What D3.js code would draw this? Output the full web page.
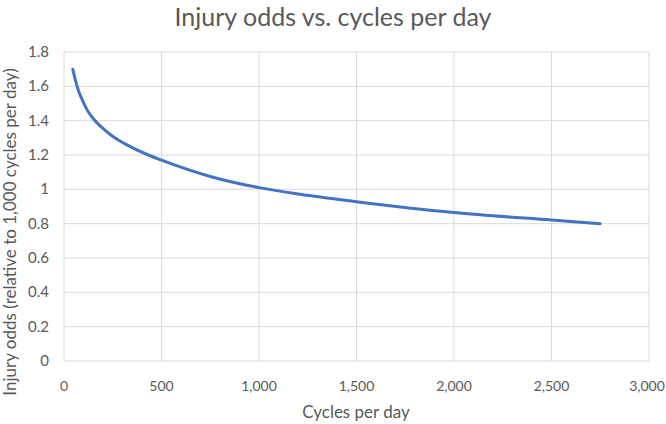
<!DOCTYPE html>
<html>
<head>
<meta charset="utf-8">
<script src="https://cdn.jsdelivr.net/npm/d3@7"></script>
<style>
  body { margin: 0; background: #fff; }
  text { font-family: Lato, "Open Sans", sans-serif; fill: #595959; }
</style>
</head>
<body>
<svg id="chart" width="666" height="424"></svg>
<script>
// values
var cycles = [45, 67, 100, 120, 155, 210, 260, 313, 432, 500, 750, 1000, 1210, 1500, 2000, 2500, 2750];
var odds   = [1.70, 1.60, 1.505, 1.46, 1.405, 1.345, 1.30, 1.265, 1.20, 1.17, 1.075, 1.01, 0.971, 0.928, 0.865, 0.821, 0.80];
var xTicks = [0, 500, 1000, 1500, 2000, 2500, 3000];
var yTicks = [0, 0.2, 0.4, 0.6, 0.8, 1, 1.2, 1.4, 1.6, 1.8];

var svg = d3.select("#chart");
var margin = {top: 52, right: 17, bottom: 63, left: 64};
var width = 666 - margin.left - margin.right,
    height = 424 - margin.top - margin.bottom;

var x = d3.scaleLinear().domain([0, 3000]).range([0, width]);
var y = d3.scaleLinear().domain([0, 1.8]).range([height, 0]);

var g = svg.append("g").attr("transform", "translate(" + margin.left + "," + margin.top + ")");

// gridlines
g.selectAll(".hgrid").data(yTicks).enter().append("line")
  .attr("x1", 0).attr("x2", width)
  .attr("y1", d => y(d)).attr("y2", d => y(d))
  .style("stroke", "#d9d9d9").style("stroke-width", 1);
g.selectAll(".vgrid").data(xTicks).enter().append("line")
  .attr("y1", 0).attr("y2", height)
  .attr("x1", d => x(d)).attr("x2", d => x(d))
  .style("stroke", "#d9d9d9").style("stroke-width", 1);

// tick labels
var fmtX = d3.format(",");
g.selectAll(".xlab").data(xTicks).enter().append("text")
  .attr("x", d => x(d) - (d === 3000 ? 2 : 0)).attr("y", height + 30)
  .attr("text-anchor", "middle")
  .style("font-size", "14px")
  .text(d => fmtX(d));
g.selectAll(".ylab").data(yTicks).enter().append("text")
  .attr("x", -15).attr("y", d => y(d) + 5)
  .attr("text-anchor", "end")
  .style("font-size", "15px")
  .text(d => d3.format("~g")(d));

// curve
var line = d3.line()
  .x((d, i) => x(cycles[i]))
  .y(d => y(d))
  .curve(d3.curveMonotoneX);
g.append("path")
  .datum(odds)
  .attr("d", line)
  .style("fill", "none")
  .style("stroke", "#4472c4")
  .style("stroke-width", 3)
  .style("stroke-linecap", "round");

// titles
svg.append("text")
  .attr("x", 333).attr("y", 26)
  .attr("text-anchor", "middle")
  .style("font-size", "25px")
  .text("Injury odds vs. cycles per day");
svg.append("text")
  .attr("x", 356).attr("y", 418)
  .attr("text-anchor", "middle")
  .style("font-size", "17px")
  .text("Cycles per day");
svg.append("text")
  .attr("transform", "translate(16,232) rotate(-90)")
  .attr("text-anchor", "middle")
  .style("font-size", "17px")
  .text("Injury odds (relative to 1,000 cycles per day)");
</script>
</body>
</html>
